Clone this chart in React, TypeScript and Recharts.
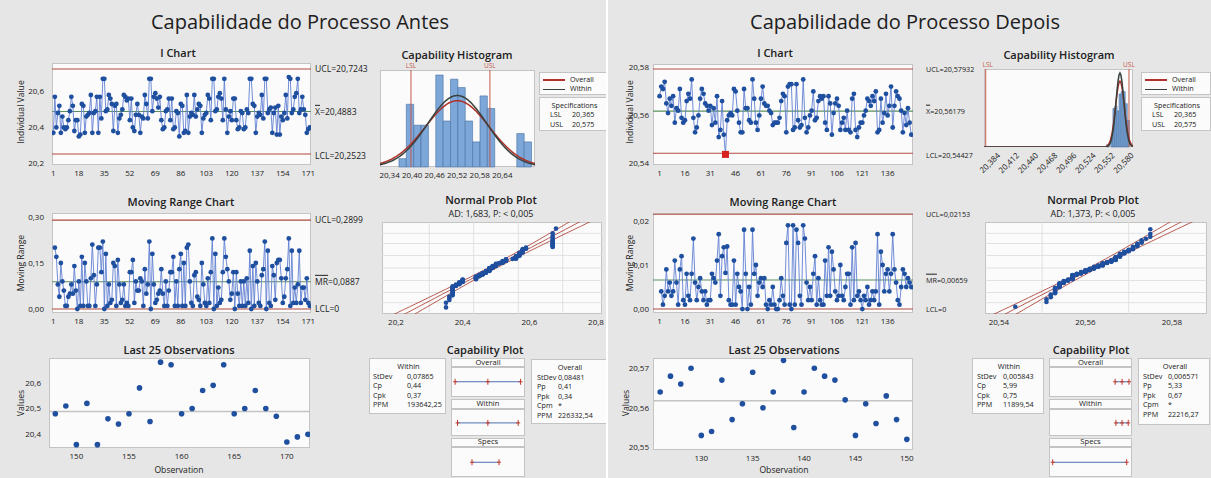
import React from 'react';
import {
  ComposedChart,
  ScatterChart,
  Scatter,
  Line,
  XAxis,
  YAxis,
  ReferenceLine,
  ReferenceArea,
} from 'recharts';

const FONT = '"Open Sans", "Noto Sans", Arial, sans-serif';
const INK = '#202020';
const BG = '#e6e6e6';
const PLOT_BG = '#fbfbfb';
const FRAME = '#c4c4c4';
const LIMIT = '#b24a3f';
const CENTER = '#5a905c';
const SERIES = '#6180d2';
const POINT = '#1f4f9f';
const FLAG = '#d6231e';
const SPEC = '#c55a4a';
const BAR_FILL = '#7da6d9';
const BAR_EDGE = '#46719f';
const CURVE_OVERALL = '#b0302a';
const CURVE_WITHIN = '#38413c';
const INTERVAL = '#4d6db2';
const GRID = '#dadada';

// ---------- Antes ----------
const I_ANTES = [
  20.37, 20.57, 20.40, 20.48, 20.52, 20.37, 20.46, 20.40, 20.39, 20.40,
  20.44, 20.49, 20.57, 20.52, 20.38, 20.44, 20.44, 20.35, 20.36, 20.53,
  20.52, 20.37, 20.46, 20.47, 20.48, 20.58, 20.37, 20.48, 20.49, 20.57,
  20.37, 20.57, 20.45, 20.67, 20.67, 20.49, 20.50, 20.58, 20.56, 20.53,
  20.38, 20.52, 20.53, 20.37, 20.45, 20.47, 20.50, 20.58, 20.57, 20.55,
  20.56, 20.44, 20.56, 20.40, 20.38, 20.47, 20.53, 20.47, 20.37, 20.46,
  20.45, 20.58, 20.53, 20.45, 20.67, 20.67, 20.49, 20.57, 20.59, 20.56,
  20.51, 20.57, 20.44, 20.39, 20.40, 20.49, 20.50, 20.56, 20.44, 20.56,
  20.39, 20.40, 20.49, 20.48, 20.35, 20.53, 20.52, 20.37, 20.38, 20.58,
  20.37, 20.46, 20.48, 20.47, 20.58, 20.46, 20.50, 20.53, 20.52, 20.37,
  20.45, 20.47, 20.48, 20.58, 20.56, 20.44, 20.67, 20.67, 20.49, 20.50,
  20.57, 20.59, 20.56, 20.44, 20.67, 20.50, 20.37, 20.46, 20.49, 20.44,
  20.56, 20.56, 20.44, 20.39, 20.40, 20.49, 20.48, 20.39, 20.40, 20.50,
  20.48, 20.67, 20.67, 20.53, 20.52, 20.37, 20.46, 20.48, 20.47, 20.58,
  20.45, 20.67, 20.67, 20.48, 20.50, 20.51, 20.37,
  20.48, 20.51, 20.36, 20.52, 20.36, 20.46, 20.44, 20.48, 20.58, 20.45,
  20.68, 20.67, 20.48, 20.50, 20.57, 20.59, 20.67, 20.48, 20.50, 20.57,
  20.50, 20.47, 20.37, 20.39, 20.40,
];
const OUT_ANTES: number[] = [];
const LIMITS_ANTES = [20.7243, 20.4883, 20.2523]; // UCL, X-bar, LCL
const MR_LIMITS_ANTES = [0.2899, 0.0887, 0];
const SD_ANTES = [0.07865, 0.08481]; // within, overall
const SPECS = [20.365, 20.575];
const HIST_ANTES_START = 20.333;
const HIST_ANTES_WIDTH = 0.0196;
const HIST_ANTES_COUNTS = [2, 15, 10, 10, 0, 22, 11, 21, 19, 11, 6, 17, 14, 0, 0, 0, 8, 6];
const WITHIN_ANTES = [['StDev', '0,07865'], ['Cp', '0,44'], ['Cpk', '0,37'], ['PPM', '193642,25']];
const OVERALL_ANTES = [['StDev', '0,08481'], ['Pp', '0,41'], ['Ppk', '0,34'], ['Cpm', '*'], ['PPM', '226332,54']];
const I_TICKS_ANTES = [1, 18, 35, 52, 69, 86, 103, 120, 137, 154, 171];
const I_YTICKS_ANTES = [20.2, 20.4, 20.6];
const MR_YTICKS_ANTES = [0, 0.15, 0.3];
const LAST_TICKS_ANTES = [150, 155, 160, 165, 170];
const LAST_YTICKS_ANTES = [20.4, 20.5, 20.6];
const HIST_TICKS_ANTES = [20.34, 20.4, 20.46, 20.52, 20.58, 20.64];
const PROB_TICKS_ANTES = [20.2, 20.4, 20.6, 20.8];
const PROB_GRID_ANTES = [20.3, 20.433, 20.567, 20.7];

// ---------- Depois ----------
const I_DEPOIS = [
  20.568, 20.572, 20.571, 20.574, 20.565, 20.561, 20.567, 20.564, 20.568, 20.557,
  20.563, 20.562, 20.571, 20.559, 20.557, 20.558, 20.566, 20.569, 20.567, 20.575,
  20.559, 20.553, 20.555, 20.560, 20.567, 20.571, 20.569, 20.565, 20.564, 20.562,
  20.564, 20.556, 20.563, 20.557, 20.568, 20.551, 20.554, 20.566, 20.552, 20.5438,
  20.558, 20.560, 20.561, 20.560, 20.571, 20.570, 20.562, 20.557, 20.553, 20.553,
  20.571, 20.563, 20.563, 20.558, 20.557, 20.575, 20.567, 20.557, 20.554, 20.560,
  20.567, 20.572, 20.565, 20.564, 20.564, 20.562, 20.561, 20.556, 20.557, 20.557,
  20.557, 20.559, 20.566, 20.569, 20.568, 20.553, 20.572, 20.573, 20.573, 20.554,
  20.555, 20.573, 20.558, 20.555, 20.556, 20.575, 20.559, 20.553, 20.555, 20.560,
  20.562, 20.570, 20.558, 20.559, 20.566, 20.568, 20.567, 20.568, 20.557, 20.554,
  20.568, 20.565, 20.552, 20.561, 20.565, 20.567, 20.564, 20.554, 20.557, 20.559,
  20.554, 20.562, 20.554, 20.553, 20.567, 20.569, 20.554, 20.551, 20.555, 20.557,
  20.557, 20.560, 20.562, 20.567, 20.566,
  20.564, 20.568, 20.566, 20.570, 20.553, 20.554, 20.567, 20.557, 20.561, 20.569,
  20.560, 20.564, 20.572, 20.555, 20.564, 20.570, 20.568, 20.567, 20.562, 20.553,
  20.561, 20.556, 20.563, 20.557, 20.552,
];
const OUT_DEPOIS = [40];
const LIMITS_DEPOIS = [20.57932, 20.56179, 20.54427];
const MR_LIMITS_DEPOIS = [0.02153, 0.00659, 0];
const SD_DEPOIS = [0.005843, 0.006571];
const HIST_DEPOIS_START = 20.5425;
const HIST_DEPOIS_WIDTH = 0.003;
const HIST_DEPOIS_COUNTS = [1, 0, 4, 16, 17, 15, 22, 23, 23, 18, 11];
const WITHIN_DEPOIS = [['StDev', '0,005843'], ['Cp', '5,99'], ['Cpk', '0,75'], ['PPM', '11899,54']];
const OVERALL_DEPOIS = [['StDev', '0,006571'], ['Pp', '5,33'], ['Ppk', '0,67'], ['Cpm', '*'], ['PPM', '22216,27']];
const I_TICKS_DEPOIS = [1, 16, 31, 46, 61, 76, 91, 106, 121, 136];
const I_YTICKS_DEPOIS = [20.54, 20.56, 20.58];
const MR_YTICKS_DEPOIS = [0, 0.01, 0.02];
const LAST_TICKS_DEPOIS = [130, 135, 140, 145, 150];
const LAST_YTICKS_DEPOIS = [20.55, 20.56, 20.57];
const HIST_TICKS_DEPOIS = [20.384, 20.412, 20.44, 20.468, 20.496, 20.524, 20.552, 20.58];
const PROB_TICKS_DEPOIS = [20.54, 20.56, 20.58];
const PROB_GRID_DEPOIS = [20.55, 20.57];

const PROB_GRID_PCT = [1, 5, 20, 50, 80, 95, 99];

type Box = { x: number; y: number; w: number; h: number };

const fmt = (v: number, d: number) => v.toFixed(d).replace('.', ',');

function invNorm(p: number) {
  const a = [-39.69683028665376, 220.9460984245205, -275.9285104469687, 138.357751867269, -30.66479806614716, 2.506628277459239];
  const b = [-54.47609879822406, 161.5858368580409, -155.6989798598866, 66.80131188771972, -13.28068155288572];
  const c = [-0.007784894002430293, -0.3223964580411365, -2.400758277161838, -2.549732539343734, 4.374664141464968, 2.938163982698783];
  const d = [0.007784695709041462, 0.3224671290700398, 2.445134137142996, 3.754408661907416];
  const lo = 0.02425;
  if (p < lo) {
    const q = Math.sqrt(-2 * Math.log(p));
    return (((((c[0] * q + c[1]) * q + c[2]) * q + c[3]) * q + c[4]) * q + c[5]) / ((((d[0] * q + d[1]) * q + d[2]) * q + d[3]) * q + 1);
  }
  if (p > 1 - lo) {
    const q = Math.sqrt(-2 * Math.log(1 - p));
    return -(((((c[0] * q + c[1]) * q + c[2]) * q + c[3]) * q + c[4]) * q + c[5]) / ((((d[0] * q + d[1]) * q + d[2]) * q + d[3]) * q + 1);
  }
  const q = p - 0.5;
  const r = q * q;
  return ((((((a[0] * r + a[1]) * r + a[2]) * r + a[3]) * r + a[4]) * r + a[5]) * q) / (((((b[0] * r + b[1]) * r + b[2]) * r + b[3]) * r + b[4]) * r + 1);
}

const pdf = (x: number, m: number, s: number) => Math.exp(-0.5 * ((x - m) / s) ** 2) / (s * Math.sqrt(2 * Math.PI));

// chart box so that the plot area lands exactly on b
function frame(b: Box, yw: number, xh: number) {
  const p = 6;
  return {
    style: { position: 'absolute' as const, left: b.x - yw - p, top: b.y - p },
    width: b.w + yw + 2 * p,
    height: b.h + xh + 2 * p,
    margin: { top: p, right: p, bottom: p, left: p },
  };
}

const TICK = { fontSize: 8, fill: INK, fontFamily: FONT };

const tickX = (dec: number, dx = 0) => (p: any) => (
  <text x={p.x + dx} y={p.y} dy="0.72em" textAnchor="middle" {...TICK}>
    {fmt(p.payload.value, dec)}
  </text>
);
const tickY = (dec: number) => (p: any) => (
  <text x={p.x} y={p.y} dy="0.35em" textAnchor="end" {...TICK}>
    {fmt(p.payload.value, dec)}
  </text>
);
const tickRot = (dec: number) => (p: any) => (
  <text x={p.x} y={p.y + 2} dy="0.35em" textAnchor="end" transform={`rotate(-45 ${p.x} ${p.y + 2})`} {...TICK}>
    {fmt(p.payload.value, dec)}
  </text>
);

function T({ x, y, children, size = 8.5, align = 'left', weight = 400, rotate = false, color = INK, lh = 1.2 }: any) {
  const tx = align === 'center' || rotate ? '-50%' : align === 'right' ? '-100%' : '0%';
  return (
    <div
      style={{
        position: 'absolute',
        left: x,
        top: y,
        transform: `translate(${tx}, -50%)` + (rotate ? ' rotate(-90deg)' : ''),
        fontSize: size,
        fontWeight: weight,
        color,
        whiteSpace: 'nowrap',
        lineHeight: lh,
      }}
    >
      {children}
    </div>
  );
}

function Bg({ b }: { b: Box }) {
  return (
    <div
      style={{
        position: 'absolute',
        left: b.x,
        top: b.y,
        width: b.w,
        height: b.h,
        background: PLOT_BG,
        border: `1px solid ${FRAME}`,
        boxSizing: 'border-box',
      }}
    />
  );
}

const pointDot = (p: any) => {
  if (p.cx == null || p.cy == null) return <g key={`d${p.index}`} />;
  if (p.payload && p.payload.out)
    return <rect key={`d${p.index}`} x={p.cx - 3.5} y={p.cy - 3.5} width={7} height={7} fill={FLAG} />;
  return <circle key={`d${p.index}`} cx={p.cx} cy={p.cy} r={2.4} fill={POINT} />;
};

function RunChart({ b, data, xDomain, xTicks, yDomain, yTicks, yDec, gap, limits }: any) {
  const f = frame(b, 40, 14);
  return (
    <div style={f.style}>
      <ComposedChart width={f.width} height={f.height} margin={f.margin} data={data}>
        <XAxis type="number" dataKey="x" domain={xDomain} ticks={xTicks} interval={0} allowDataOverflow height={14}
          tickLine={false} axisLine={false} tickSize={2} tickMargin={3} tick={tickX(0)} />
        <YAxis type="number" domain={yDomain} ticks={yTicks} interval={0} allowDataOverflow width={40}
          tickLine={false} axisLine={false} tickSize={0} tickMargin={gap} tick={tickY(yDec)} />
        <ReferenceLine y={limits[0]} stroke={LIMIT} strokeWidth={1.1} />
        <ReferenceLine y={limits[1]} stroke={CENTER} strokeWidth={1.1} />
        <ReferenceLine y={limits[2]} stroke={LIMIT} strokeWidth={1.1} />
        <Line dataKey="v" stroke={SERIES} strokeWidth={0.9} dot={pointDot} isAnimationActive={false} />
      </ComposedChart>
    </div>
  );
}

function LastChart({ b, data, xDomain, xTicks, yDomain, yTicks, yDec, gap, mean }: any) {
  const f = frame(b, 40, 14);
  return (
    <div style={f.style}>
      <ScatterChart width={f.width} height={f.height} margin={f.margin}>
        <XAxis type="number" dataKey="x" domain={xDomain} ticks={xTicks} interval={0} allowDataOverflow height={14}
          tickLine={false} axisLine={false} tickSize={2} tickMargin={3} tick={tickX(0)} />
        <YAxis type="number" dataKey="y" domain={yDomain} ticks={yTicks} interval={0} allowDataOverflow width={40}
          tickLine={false} axisLine={false} tickSize={0} tickMargin={gap} tick={tickY(yDec)} />
        <ReferenceLine y={mean} stroke="#c3c3c3" strokeWidth={1.6} />
        <Scatter data={data} fill={POINT} isAnimationActive={false}
          shape={(p: any) => <circle cx={p.cx} cy={p.cy} r={2.8} fill={POINT} />} />
      </ScatterChart>
    </div>
  );
}

function Histogram({ b, start, width, counts, yMax, mean, sdW, sdO, n, xDomain, xTicks, tickDec, tickDx, rotated }: any) {
  const xh = rotated ? 26 : 14;
  const f = frame(b, 0, xh);
  const curve: any[] = [];
  const step = (xDomain[1] - xDomain[0]) / 160;
  for (let i = 0; i <= 160; i++) {
    const x = xDomain[0] + i * step;
    curve.push({ x, o: n * width * pdf(x, mean, sdO), w: n * width * pdf(x, mean, sdW) });
  }
  return (
    <div style={f.style}>
      <ComposedChart width={f.width} height={f.height} margin={f.margin} data={curve}>
        <XAxis type="number" dataKey="x" domain={xDomain} ticks={xTicks} interval={0} allowDataOverflow height={xh}
          tickLine={false} axisLine={false} tickSize={2} tickMargin={3}
          tick={rotated ? tickRot(tickDec) : tickX(tickDec, tickDx)} />
        <YAxis type="number" hide domain={[0, yMax]} allowDataOverflow />
        {counts.map((c: number, i: number) =>
          c > 0 ? (
            <ReferenceArea key={i} x1={start + i * width} x2={start + (i + 1) * width} y1={0} y2={c}
              fill={BAR_FILL} fillOpacity={1} stroke={BAR_EDGE} strokeWidth={0.6} />
          ) : null,
        )}
        <ReferenceLine x={SPECS[0]} stroke={SPEC} strokeWidth={1} />
        <ReferenceLine x={SPECS[1]} stroke={SPEC} strokeWidth={1} />
        <Line dataKey="o" stroke={CURVE_OVERALL} strokeWidth={1.5} dot={false} isAnimationActive={false} />
        <Line dataKey="w" stroke={CURVE_WITHIN} strokeWidth={1.5} dot={false} isAnimationActive={false} />
      </ComposedChart>
    </div>
  );
}

const noShape = () => <g />;

function ProbPlot({ b, values, mean, sd, xDomain, xTicks, tickDec, gridX }: any) {
  const f = frame(b, 0, 14);
  const sorted = [...values].sort((p: number, q: number) => p - q);
  const n = sorted.length;
  const pts = sorted.map((v: number, i: number) => ({ x: v, z: invNorm((i + 1 - 0.3) / (n + 0.4)) }));
  const zs: number[] = [];
  for (let z = -3.6; z <= 3.61; z += 0.2) zs.push(z);
  const fit = zs.map((z) => ({ x: mean + z * sd, z }));
  const band = (s: number) =>
    zs.map((z) => ({ x: mean + z * sd + s * 1.96 * sd * Math.sqrt(1 / n + (z * z) / (2 * (n - 1))), z }));
  return (
    <div style={f.style}>
      <ScatterChart width={f.width} height={f.height} margin={f.margin}>
        <XAxis type="number" dataKey="x" domain={xDomain} ticks={xTicks} interval={0} allowDataOverflow height={14}
          tickLine={false} axisLine={false} tickSize={2} tickMargin={3} tick={tickX(tickDec)} />
        <YAxis type="number" dataKey="z" hide domain={[-3.09, 3.09]} allowDataOverflow />
        {gridX.map((x: number) => (
          <ReferenceLine key={`gx${x}`} x={x} stroke={GRID} strokeWidth={0.8} />
        ))}
        {PROB_GRID_PCT.map((p) => (
          <ReferenceLine key={`gy${p}`} y={invNorm(p / 100)} stroke={GRID} strokeWidth={0.8} />
        ))}
        <Scatter data={band(-1)} line={{ stroke: LIMIT, strokeWidth: 0.9 }} shape={noShape} isAnimationActive={false} />
        <Scatter data={fit} line={{ stroke: LIMIT, strokeWidth: 0.9 }} shape={noShape} isAnimationActive={false} />
        <Scatter data={band(1)} line={{ stroke: LIMIT, strokeWidth: 0.9 }} shape={noShape} isAnimationActive={false} />
        <Scatter data={pts} isAnimationActive={false}
          shape={(p: any) => <circle cx={p.cx} cy={p.cy} r={2.3} fill={POINT} />} />
      </ScatterChart>
    </div>
  );
}

const plusMark = (p: any) => (
  <g>
    <line x1={p.cx} x2={p.cx} y1={p.cy - 3} y2={p.cy + 3} stroke="#c0392b" strokeWidth={1} />
    <line x1={p.cx - 2} x2={p.cx + 2} y1={p.cy} y2={p.cy} stroke="#c0392b" strokeWidth={1} />
  </g>
);

function Interval({ b, domain, xs }: any) {
  return (
    <div style={{ position: 'absolute', left: b.x, top: b.y }}>
      <ScatterChart width={b.w} height={b.h} margin={{ top: 0, right: 0, bottom: 0, left: 0 }}>
        <XAxis type="number" dataKey="x" hide domain={domain} allowDataOverflow />
        <YAxis type="number" dataKey="y" hide domain={[-1, 1]} />
        <Scatter data={xs.map((x: number) => ({ x, y: 0 }))} line={{ stroke: INTERVAL, strokeWidth: 1 }}
          shape={plusMark} isAnimationActive={false} />
      </ScatterChart>
    </div>
  );
}

function StatBox({ b, title, rows, cols, step }: any) {
  return (
    <div style={{ position: 'absolute', left: b.x, top: b.y, width: b.w, height: b.h, background: PLOT_BG,
      border: `1px solid ${FRAME}`, boxSizing: 'border-box' }}>
      <T x={b.w / 2} y={7.5} align="center" size={7.4} lh={1}>{title}</T>
      {rows.map((r: string[], i: number) => (
        <React.Fragment key={r[0]}>
          <T x={cols[0]} y={17.6 + i * step} size={7.2} lh={1}>{r[0]}</T>
          <T x={cols[1]} y={17.6 + i * step} size={7.2} lh={1}>{r[1]}</T>
        </React.Fragment>
      ))}
    </div>
  );
}

function Legend({ x, w }: { x: number; w: number }) {
  const box = { position: 'absolute' as const, left: x, width: w, background: PLOT_BG, border: `1px solid ${FRAME}`, boxSizing: 'border-box' as const };
  return (
    <>
      <div style={{ ...box, top: 72, height: 23 }}>
        <div style={{ position: 'absolute', left: 3, top: 6, width: 22, height: 1.5, background: CURVE_OVERALL }} />
        <div style={{ position: 'absolute', left: 3, top: 15.5, width: 22, height: 1.5, background: CURVE_WITHIN }} />
        <T x={30} y={6.5} size={7.2} lh={1}>Overall</T>
        <T x={30} y={16.2} size={7.2} lh={1}>Within</T>
      </div>
      <div style={{ ...box, top: 97, height: 34 }}>
        <T x={w / 2} y={7.5} size={7.2} align="center" lh={1}>Specifications</T>
        <T x={10} y={17.2} size={7.2} lh={1}>LSL</T>
        <T x={32} y={17.2} size={7.2} lh={1}>{fmt(SPECS[0], 3)}</T>
        <T x={10} y={26.9} size={7.2} lh={1}>USL</T>
        <T x={32} y={26.9} size={7.2} lh={1}>{fmt(SPECS[1], 3)}</T>
      </div>
    </>
  );
}

const ROWS = [[0, 9], [9, 38.5], [40.7, 50.7], [50.7, 78.5], [79.5, 88.5], [88.5, 119]];

function SixPack({ L, D }: any) {
  const vals: number[] = D.values;
  const n = vals.length;
  const [ucl, mean, lcl] = D.limits;
  const [sdW, sdO] = D.sd;
  const iData = vals.map((v, i) => ({ x: i + 1, v, out: D.out.includes(i + 1) }));
  const mrData = vals.slice(1).map((v, i) => ({ x: i + 2, v: Math.abs(v - vals[i]) }));
  const lastData = vals.slice(-25).map((v, i) => ({ x: n - 24 + i, y: v }));
  const yOf = (b: Box, dom: number[], v: number) => b.y + ((dom[1] - v) / (dom[1] - dom[0])) * b.h;
  const xOf = (b: Box, dom: number[], v: number) => b.x + ((v - dom[0]) / (dom[1] - dom[0])) * b.w;
  const TT = 11; // chart title size
  const LS = L.limitSize;
  const bar = { textDecoration: 'overline' };
  const midRow = (k: number) => ({ x: L.mid.x, y: L.mid.y + ROWS[k][0], w: L.mid.w, h: ROWS[k][1] - ROWS[k][0] });
  return (
    <>
      <T x={L.titleX} y={22} size={20} align="center">{D.name}</T>

      {/* I chart */}
      <T x={L.iTitleX} y={53} size={TT} weight={600} align="center">I Chart</T>
      <T x={L.yLabelX} y={112} rotate size={8.6}>Individual Value</T>
      <Bg b={L.i} />
      <RunChart b={L.i} data={iData} xDomain={L.iX} xTicks={D.iTicks} yDomain={L.iY} yTicks={D.iYTicks}
        yDec={D.iDec} gap={L.gap} limits={D.limits} />
      <T x={L.limitX} y={yOf(L.i, L.iY, ucl)} size={LS}>UCL={fmt(ucl, D.limDec)}</T>
      <T x={L.limitX} y={yOf(L.i, L.iY, mean)} size={LS}><span style={bar}>X</span>={fmt(mean, D.limDec)}</T>
      <T x={L.limitX} y={yOf(L.i, L.iY, lcl) + 2} size={LS}>LCL={fmt(lcl, D.limDec)}</T>

      {/* Moving range */}
      <T x={L.mrTitleX} y={202} size={TT} weight={600} align="center">Moving Range Chart</T>
      <T x={L.yLabelX} y={263} rotate size={8.6}>Moving Range</T>
      <Bg b={L.mr} />
      <RunChart b={L.mr} data={mrData} xDomain={L.iX} xTicks={D.iTicks} yDomain={L.mrY} yTicks={D.mrYTicks}
        yDec={2} gap={L.gap} limits={D.mrLimits} />
      <T x={L.limitX} y={yOf(L.mr, L.mrY, D.mrLimits[0])} size={LS}>UCL={fmt(D.mrLimits[0], D.mrDec)}</T>
      <T x={L.limitX} y={yOf(L.mr, L.mrY, D.mrLimits[1])} size={LS}><span style={bar}>MR</span>={fmt(D.mrLimits[1], D.mrDec)}</T>
      <T x={L.limitX} y={yOf(L.mr, L.mrY, 0)} size={LS}>LCL=0</T>

      {/* Last 25 */}
      <T x={L.lastTitleX} y={350} size={TT} weight={600} align="center">Last 25 Observations</T>
      <T x={L.lastYLabelX} y={403} rotate size={8.6}>Values</T>
      <T x={L.lastTitleX} y={470} size={8.6} align="center">Observation</T>
      <Bg b={L.last} />
      <LastChart b={L.last} data={lastData} xDomain={L.lastX} xTicks={D.lastTicks} yDomain={L.lastY}
        yTicks={D.lastYTicks} yDec={D.lastDec} gap={L.gap} mean={mean} />

      {/* Histogram */}
      <T x={L.histTitleX} y={55} size={TT} weight={600} align="center">Capability Histogram</T>
      <Bg b={L.hist} />
      <Histogram b={L.hist} start={D.histStart} width={D.histWidth} counts={D.histCounts} yMax={L.histYMax}
        mean={mean} sdW={sdW} sdO={sdO} n={n} xDomain={L.histX} xTicks={D.histTicks} tickDec={D.histDec}
        tickDx={L.histTickDx} rotated={L.histRot} />
      <T x={xOf(L.hist, L.histX, SPECS[0]) + L.specDx} y={L.hist.y - 4} size={6.5} color={SPEC} align="center" lh={1}>LSL</T>
      <T x={xOf(L.hist, L.histX, SPECS[1])} y={L.hist.y - 4} size={6.5} color={SPEC} align="center" lh={1}>USL</T>
      <Legend x={L.legendX} w={L.legendW} />

      {/* Normal probability plot */}
      <T x={L.probTitleX} y={200} size={TT} weight={600} align="center">Normal Prob Plot</T>
      <T x={L.probTitleX} y={214} size={9} align="center">{D.ad}</T>
      <Bg b={L.prob} />
      <ProbPlot b={L.prob} values={vals} mean={mean} sd={sdO} xDomain={L.probX} xTicks={D.probTicks}
        tickDec={D.probDec} gridX={D.probGrid} />

      {/* Capability plot */}
      <T x={L.capTitleX} y={350} size={TT} weight={600} align="center">Capability Plot</T>
      <StatBox b={L.within} title="Within" rows={D.within} cols={L.withinCols} step={9.6} />
      <StatBox b={L.overall} title="Overall" rows={D.overall} cols={L.overallCols} step={9.6} />
      {[0, 1, 2, 3, 4, 5].map((k) => <Bg key={k} b={midRow(k)} />)}
      <T x={L.mid.x + L.mid.w / 2} y={L.mid.y + 5} size={7.6} align="center" lh={1}>Overall</T>
      <T x={L.mid.x + L.mid.w / 2} y={L.mid.y + 46} size={7.6} align="center" lh={1}>Within</T>
      <T x={L.mid.x + L.mid.w / 2} y={L.mid.y + 84} size={7.6} align="center" lh={1}>Specs</T>
      <Interval b={midRow(1)} domain={L.capX} xs={[mean - 3 * sdO, mean, mean + 3 * sdO]} />
      <Interval b={midRow(3)} domain={L.capX} xs={[mean - 3 * sdW, mean, mean + 3 * sdW]} />
      <Interval b={midRow(5)} domain={L.capX} xs={SPECS} />
    </>
  );
}

const DATA_ANTES = {
  name: 'Capabilidade do Processo Antes', values: I_ANTES, out: OUT_ANTES, limits: LIMITS_ANTES,
  mrLimits: MR_LIMITS_ANTES, sd: SD_ANTES, limDec: 4, mrDec: 4,
  histStart: HIST_ANTES_START, histWidth: HIST_ANTES_WIDTH, histCounts: HIST_ANTES_COUNTS,
  ad: 'AD: 1,683, P: < 0,005', within: WITHIN_ANTES, overall: OVERALL_ANTES,
  iTicks: I_TICKS_ANTES, iYTicks: I_YTICKS_ANTES, iDec: 1, mrYTicks: MR_YTICKS_ANTES,
  lastTicks: LAST_TICKS_ANTES, lastYTicks: LAST_YTICKS_ANTES, lastDec: 1,
  histTicks: HIST_TICKS_ANTES, histDec: 2, probTicks: PROB_TICKS_ANTES, probDec: 1, probGrid: PROB_GRID_ANTES,
};

const DATA_DEPOIS = {
  name: 'Capabilidade do Processo Depois', values: I_DEPOIS, out: OUT_DEPOIS, limits: LIMITS_DEPOIS,
  mrLimits: MR_LIMITS_DEPOIS, sd: SD_DEPOIS, limDec: 5, mrDec: 5,
  histStart: HIST_DEPOIS_START, histWidth: HIST_DEPOIS_WIDTH, histCounts: HIST_DEPOIS_COUNTS,
  ad: 'AD: 1,373, P: < 0,005', within: WITHIN_DEPOIS, overall: OVERALL_DEPOIS,
  iTicks: I_TICKS_DEPOIS, iYTicks: I_YTICKS_DEPOIS, iDec: 2, mrYTicks: MR_YTICKS_DEPOIS,
  lastTicks: LAST_TICKS_DEPOIS, lastYTicks: LAST_YTICKS_DEPOIS, lastDec: 2,
  histTicks: HIST_TICKS_DEPOIS, histDec: 3, probTicks: PROB_TICKS_DEPOIS, probDec: 2, probGrid: PROB_GRID_DEPOIS,
};

const LAYOUT_ANTES = {
  titleX: 300, yLabelX: 21, lastYLabelX: 21, limitX: 315, gap: 8, limitSize: 8.6,
  i: { x: 52, y: 63, w: 259, h: 102 }, iTitleX: 178, iX: [0.1, 172.8], iY: [20.191, 20.758],
  mr: { x: 52, y: 213, w: 259, h: 100 }, mrTitleX: 181, mrY: [-0.013, 0.313],
  last: { x: 49, y: 358, w: 261, h: 90 }, lastTitleX: 179, lastX: [147.4, 172.2], lastY: [20.347, 20.696],
  hist: { x: 380, y: 70, w: 155, h: 97 }, histTitleX: 457, histX: [20.2826, 20.695], histYMax: 23.2,
  histTickDx: -12, histRot: false, legendX: 539, legendW: 69, specDx: 0,
  prob: { x: 382, y: 222, w: 220, h: 92 }, probTitleX: 491, probX: [20.158, 20.818],
  capTitleX: 485, within: { x: 369, y: 358, w: 77, h: 56 }, mid: { x: 451, y: 358, w: 74, h: 119 },
  overall: { x: 531, y: 359, w: 76, h: 65 }, capX: [20.202, 20.777],
  withinCols: [3, 37], overallCols: [5, 26],
};

const LAYOUT_DEPOIS = {
  titleX: 905, yLabelX: 630, lastYLabelX: 626, limitX: 926, gap: 4, limitSize: 7.2,
  i: { x: 653, y: 64, w: 260, h: 101 }, iTitleX: 775, iX: [-2.9, 151], iY: [20.5394, 20.5814],
  mr: { x: 653, y: 213, w: 260, h: 100 }, mrTitleX: 783, mrY: [-0.0009, 0.0218],
  last: { x: 653, y: 358, w: 260, h: 92 }, lastTitleX: 784, lastX: [125.3, 150.6], lastY: [20.5493, 20.5726],
  hist: { x: 984, y: 69, w: 149, h: 78 }, histTitleX: 1059, histX: [20.3625, 20.5809], histYMax: 32.4,
  histTickDx: 0, histRot: true, legendX: 1141, legendW: 70, specDx: 2,
  prob: { x: 985, y: 222, w: 222, h: 92 }, probTitleX: 1093, probX: [20.5368, 20.5881],
  capTitleX: 1091, within: { x: 972, y: 358, w: 72, h: 56 }, mid: { x: 1049, y: 358, w: 83, h: 119 },
  overall: { x: 1138, y: 358, w: 72, h: 67 }, capX: [20.3545, 20.59],
  withinCols: [4, 30], overallCols: [4, 29],
};

export default function App() {
  return (
    <div style={{ position: 'absolute', left: 0, top: 0, width: 1211, height: 478, background: BG,
      overflow: 'hidden', fontFamily: FONT, color: INK }}>
      <SixPack L={LAYOUT_ANTES} D={DATA_ANTES} />
      <div style={{ position: 'absolute', left: 606, top: 0, width: 2, height: 478, background: '#ffffff' }} />
      <SixPack L={LAYOUT_DEPOIS} D={DATA_DEPOIS} />
    </div>
  );
}
